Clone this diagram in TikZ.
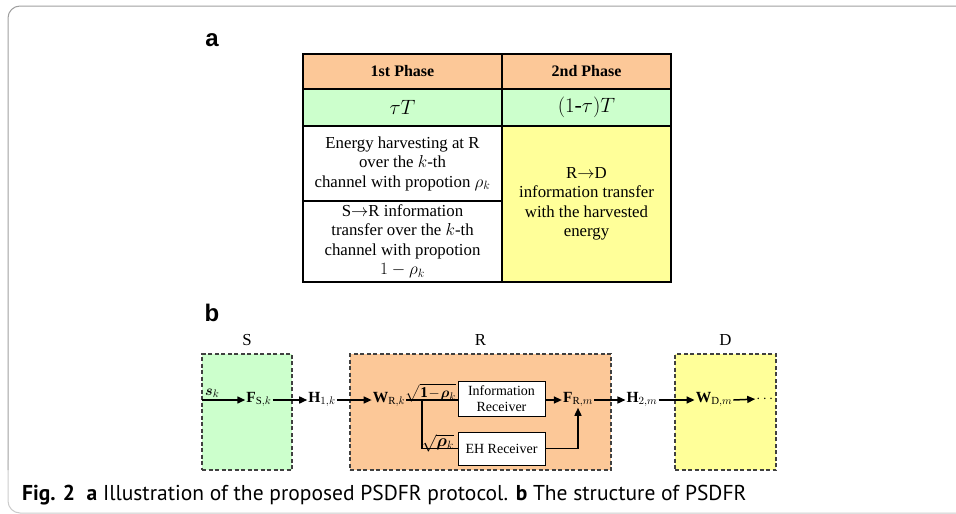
\documentclass[tikz,border=0pt]{standalone}
\usepackage{fontspec}
\setmainfont{Liberation Serif}
\newfontfamily\capfont{PT Sans}
\newfontfamily\panelfont{Liberation Sans}
\usepackage{amsmath}
\usetikzlibrary{arrows.meta,positioning}
\usepackage{xcolor}
\definecolor{peach}{RGB}{252,200,152}
\definecolor{mint}{RGB}{204,255,204}
\definecolor{lemon}{RGB}{255,255,153}

\begin{document}
\begin{tikzpicture}[
        x=1pt, y=-1pt,
        every node/.style={font=\fontsize{16.8}{19.5}\selectfont},
        cell/.style={draw, line width=2pt, inner sep=0pt, align=center},
        region/.style={draw=black!75, dash pattern=on 4pt off 2.5pt, line width=1.2pt, inner sep=0pt},
        rx/.style={draw, line width=1pt, fill=white, inner sep=0pt, align=center, font=\fontsize{14}{16}\selectfont},
        sym/.style={inner sep=1pt, font=\fontsize{15.5}{18}\selectfont},
        arrow/.style={-{Triangle[length=8pt,width=7pt]}, line width=1.5pt},
        wire/.style={line width=1.5pt}
    ]
        \useasboundingbox (0,0) rectangle (956,514);

        % Frame round the figure
        \draw[gray!75, line width=1pt, rounded corners=12] (957,6) -- (8,6) -- (8,470);
        \draw[gray!40, line width=1pt, rounded corners=12] (8,460) -- (8,513) -- (957,513);

        % Panel letters
        \node[font=\panelfont\bfseries\fontsize{24}{24}\selectfont] (lbla) at (212,40) {a};
        \node[font=\panelfont\bfseries\fontsize{24}{24}\selectfont] (lblb) at (212,313) {b};

        % Panel a: time frame
        \node[cell, fill=peach, minimum width=199, minimum height=35, font=\fontsize{16}{19}\selectfont\bfseries] (ph1) at (402.5,71.5) {1st Phase};
        \node[cell, fill=peach, minimum width=169, minimum height=35, font=\fontsize{16}{19}\selectfont\bfseries] (ph2) at (586.5,71.5) {2nd Phase};
        \node[cell, fill=mint, minimum width=199, minimum height=37, font=\fontsize{22}{24}\selectfont] (t1) at (402.5,107.5) {$\tau T$};
        \node[cell, fill=mint, minimum width=169, minimum height=37, font=\fontsize{22}{24}\selectfont] (t2) at (586.5,107.5) {$(1\text{-}\tau)T$};
        \node[cell, fill=white, minimum width=199, minimum height=75] (eh1) at (402.5,163.5)
            {Energy harvesting at R\\over the $k$-th\\channel with propotion $\rho_k$};
        \node[cell, fill=white, minimum width=199, minimum height=81] (it1) at (402.5,241.5)
            {S$\rightarrow$R information\\transfer over the $k$-th\\channel with propotion\\$1-\rho_k$};
        \node[cell, fill=lemon, minimum width=169, minimum height=156] (it2) at (586.5,204)
            {R$\rightarrow$D\\information transfer\\with the harvested\\energy};

        % Panel b: nodes S, R, D
        \node[region, fill=mint, minimum width=90, minimum height=116] (sbox) at (247,412) {};
        \node[region, fill=peach, minimum width=261, minimum height=116] (rbox) at (480.5,412) {};
        \node[region, fill=lemon, minimum width=101, minimum height=116] (dbox) at (725.5,412) {};
        \node[above=4pt of sbox] (slbl) {S};
        \node[above=4pt of rbox] (rlbl) {R};
        \node[above=4pt of dbox] (dlbl) {D};

        % Signal chain
        \coordinate (sin) at (202,400);
        \node[sym, anchor=south west] (sk) at (204,399) {$\boldsymbol{s}_k$};
        \node[sym, anchor=mid] (fs) at (259,400) {$\mathbf{F}_{\mathrm{S},k}$};
        \node[sym, anchor=mid] (h1) at (322,400) {$\mathbf{H}_{1,k}$};
        \node[sym, anchor=mid] (wr) at (389,400) {$\mathbf{W}_{\mathrm{R},k}$};
        \node[rx, minimum width=87, minimum height=35] (info) at (501.5,398.5) {Information\\Receiver};
        \node[rx, minimum width=87, minimum height=33] (ehr) at (501.5,448.5) {EH Receiver};
        \node[sym, anchor=mid] (fr) at (578,400) {$\mathbf{F}_{\mathrm{R},m}$};
        \node[sym, anchor=mid] (h2) at (642,400) {$\mathbf{H}_{2,m}$};
        \node[sym, anchor=mid] (wd) at (714,400) {$\mathbf{W}_{\mathrm{D},m}$};
        \node[sym, anchor=mid] (dots) at (766,400) {$\cdots$};

        % Power splitting
        \coordinate (split) at (422,400);
        \node[sym, anchor=base, font=\fontsize{15}{18}\selectfont] (g1) at (431,397) {$\sqrt{\mathbf{1}\!-\!\boldsymbol{\rho}_k}$};
        \node[sym, anchor=base, font=\fontsize{16.5}{19}\selectfont] (g2) at (438,446) {$\sqrt{\boldsymbol{\rho}_k}$};

        % Arrows
        \draw[arrow] (sin) -- (sin -| fs.west);
        \draw[arrow] (fs.mid east) -- (h1.mid west);
        \draw[arrow] (h1.mid east) -- (wr.mid west);
        \draw[wire] (wr.mid east) -- (wr.mid east -| info.west);
        \draw[wire] (split) |- (ehr.west);
        \draw[arrow] (info.east |- fr.mid west) -- (fr.mid west);
        \draw[arrow] (ehr.east) -| (fr.south);
        \draw[arrow] (fr.mid east) -- (h2.mid west);
        \draw[arrow] (h2.mid east) -- (wd.mid west);
        \draw[arrow] (wd.mid east) -- (dots.west);

        % Caption
        \node[anchor=base west, inner sep=0pt, font=\capfont\fontsize{21.5}{24}\selectfont] (cap) at (22,500)
            {\textbf{Fig. 2}\ \ \textbf{a} Illustration of the proposed PSDFR protocol. \textbf{b} The structure of PSDFR};
    \end{tikzpicture}
\end{document}
